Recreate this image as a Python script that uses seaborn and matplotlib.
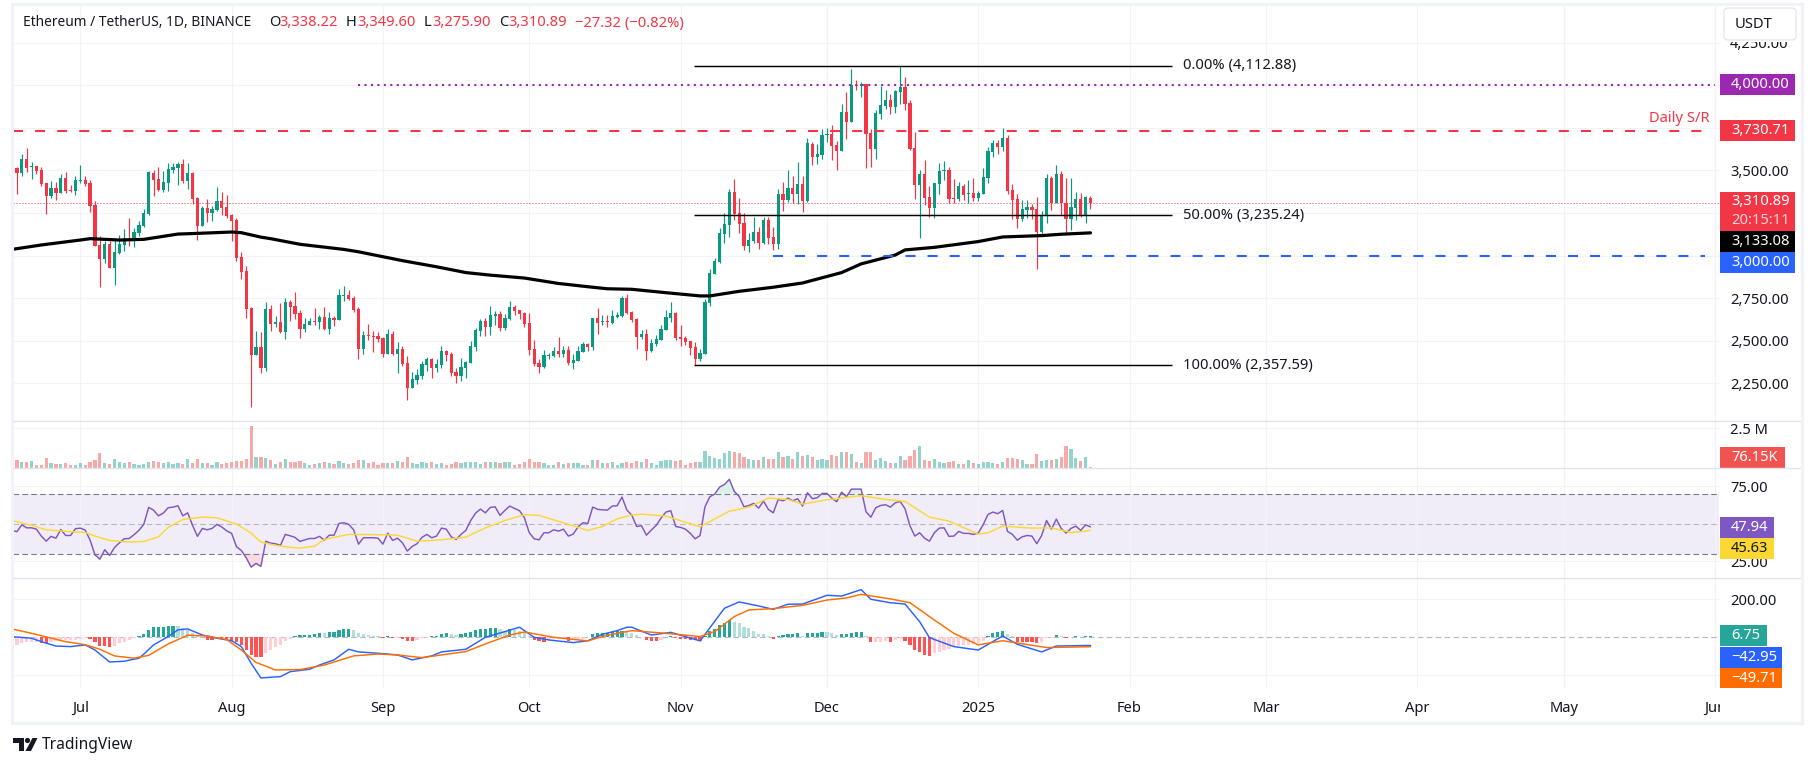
import matplotlib
matplotlib.use("Agg")
import matplotlib.pyplot as plt
from matplotlib.patches import Rectangle, FancyBboxPatch, Circle, Polygon
import seaborn as sns
import numpy as np
import pandas as pd

W, H = 1814, 767

# days counted from 1 Jul 2024
days = list(range(-14, 208))
month_days = [0, 31, 62, 92, 123, 153, 184, 215, 243, 274, 304, 335]
month_labels = ['Jul', 'Aug', 'Sep', 'Oct', 'Nov', 'Dec', '2025', 'Feb', 'Mar', 'Apr', 'May', 'Jun']

opens = [
    3625, 3513, 3484, 3566, 3519, 3525, 3502, 3425, 3349, 3396, 3367, 3455, 3384, 3378,
    3437, 3443, 3425, 3296, 3062, 2979, 3067, 2927, 3015, 3062, 3103, 3091, 3132, 3173,
    3243, 3484, 3449, 3384, 3425, 3502, 3513, 3537, 3437, 3484, 3337, 3173, 3279, 3249,
    3267, 3320, 3284, 3238, 3208, 2991, 2909, 2692, 2416, 2463, 2340, 2686, 2598, 2610,
    2551, 2727, 2703, 2662, 2568, 2592, 2615, 2610, 2639, 2568, 2633, 2621, 2762, 2768,
    2750, 2686, 2451, 2533, 2527, 2527, 2516, 2422, 2539, 2422, 2451, 2369, 2222, 2269,
    2293, 2357, 2392, 2340, 2357, 2439, 2422, 2316, 2293, 2340, 2369, 2463, 2557, 2615,
    2580, 2645, 2656, 2574, 2627, 2698, 2680, 2662, 2604, 2451, 2369, 2345, 2410, 2410,
    2439, 2422, 2445, 2369, 2381, 2433, 2480, 2463, 2633, 2610, 2615, 2604, 2639, 2645,
    2751, 2669, 2628, 2522, 2540, 2440, 2481, 2505, 2563, 2634, 2663, 2522, 2516, 2499,
    2464, 2393, 2422, 2722, 2892, 2962, 3127, 3179, 3373, 3250, 3191, 3056, 3086, 3138,
    3074, 3209, 3109, 3068, 3361, 3326, 3397, 3361, 3420, 3320, 3655, 3578, 3590, 3708,
    3713, 3649, 3614, 3842, 3784, 4001, 3995, 4007, 3719, 3625, 3831, 3878, 3913, 3872,
    3960, 3989, 3895, 3631, 3414, 3479, 3344, 3279, 3420, 3496, 3502, 3338, 3332, 3408,
    3361, 3367, 3338, 3361, 3455, 3608, 3661, 3637, 3690, 3385, 3332, 3215, 3267, 3285,
    3273, 3138, 3232, 3455, 3309, 3479, 3309, 3215, 3279, 3332, 3232, 3338.22,
]
highs = [
    3631, 3519, 3596, 3631, 3549, 3525, 3519, 3425, 3437, 3431, 3478, 3490, 3414, 3466,
    3531, 3466, 3443, 3320, 3114, 3085, 3085, 3103, 3120, 3155, 3220, 3161, 3202, 3273,
    3496, 3502, 3519, 3496, 3543, 3543, 3549, 3566, 3543, 3490, 3343, 3290, 3331, 3290,
    3402, 3372, 3355, 3243, 3220, 3020, 2938, 2698, 2557, 2551, 2727, 2709, 2645, 2721,
    2750, 2739, 2786, 2680, 2633, 2633, 2692, 2651, 2698, 2668, 2645, 2803, 2821, 2797,
    2762, 2698, 2557, 2598, 2557, 2551, 2521, 2568, 2557, 2492, 2469, 2410, 2316, 2334,
    2381, 2404, 2398, 2392, 2469, 2445, 2433, 2340, 2398, 2381, 2498, 2574, 2627, 2633,
    2703, 2674, 2674, 2656, 2733, 2709, 2680, 2668, 2662, 2504, 2392, 2445, 2428, 2463,
    2522, 2469, 2469, 2422, 2469, 2492, 2486, 2633, 2692, 2651, 2651, 2681, 2669, 2763,
    2775, 2675, 2634, 2563, 2569, 2510, 2534, 2593, 2681, 2728, 2669, 2593, 2528, 2499,
    2493, 2452, 2745, 2921, 2986, 3162, 3250, 3391, 3449, 3338, 3250, 3132, 3226, 3168,
    3226, 3226, 3168, 3391, 3432, 3502, 3467, 3549, 3467, 3690, 3666, 3655, 3743, 3749,
    3766, 3672, 3889, 3960, 4095, 4030, 4019, 4007, 3743, 3854, 3995, 3972, 3948, 3972,
    4113, 4048, 3913, 3725, 3502, 3561, 3408, 3426, 3543, 3555, 3520, 3449, 3432, 3420,
    3443, 3455, 3379, 3514, 3637, 3678, 3678, 3749, 3708, 3420, 3361, 3326, 3326, 3303,
    3344, 3262, 3479, 3467, 3531, 3496, 3455, 3455, 3373, 3367, 3349, 3349.6,
]
lows = [
    3564, 3361, 3468, 3492, 3449, 3478, 3410, 3243, 3339, 3326, 3367, 3367, 3372, 3355,
    3425, 3408, 3255, 3056, 2815, 2956, 2927, 2827, 3009, 3026, 3056, 3050, 3114, 3167,
    3238, 3349, 3378, 3372, 3378, 3482, 3414, 3425, 3390, 3302, 3091, 3173, 3196, 3202,
    3261, 3238, 3220, 3085, 2968, 2862, 2633, 2111, 2416, 2310, 2322, 2557, 2580, 2545,
    2510, 2615, 2627, 2516, 2551, 2592, 2592, 2568, 2563, 2539, 2586, 2621, 2733, 2739,
    2668, 2392, 2422, 2504, 2433, 2492, 2404, 2422, 2416, 2310, 2351, 2152, 2222, 2246,
    2275, 2322, 2281, 2316, 2340, 2381, 2293, 2252, 2263, 2281, 2369, 2439, 2527, 2527,
    2533, 2592, 2557, 2563, 2621, 2651, 2627, 2580, 2416, 2351, 2310, 2340, 2392, 2404,
    2404, 2404, 2357, 2334, 2381, 2433, 2439, 2445, 2539, 2592, 2580, 2598, 2634, 2639,
    2657, 2610, 2452, 2510, 2387, 2434, 2469, 2505, 2563, 2610, 2505, 2469, 2475, 2417,
    2356, 2381, 2422, 2704, 2892, 2956, 3074, 3109, 3209, 3132, 3033, 3021, 3074, 3039,
    3068, 3068, 3033, 3039, 3262, 3314, 3309, 3303, 3256, 3314, 3531, 3537, 3567, 3666,
    3561, 3502, 3614, 3684, 3784, 3972, 3931, 3514, 3520, 3567, 3801, 3860, 3831, 3837,
    3889, 3854, 3619, 3332, 3103, 3297, 3226, 3221, 3361, 3443, 3309, 3309, 3320, 3326,
    3309, 3320, 3320, 3361, 3426, 3578, 3596, 3614, 3361, 3215, 3162, 3203, 3221, 3215,
    2921, 3127, 3191, 3267, 3309, 3238, 3133, 3150, 3209, 3226, 3191, 3275.9,
]
closes = [
    3574, 3484, 3566, 3513, 3525, 3496, 3419, 3349, 3396, 3367, 3455, 3378, 3378, 3443,
    3443, 3419, 3290, 3056, 2979, 3067, 2927, 3020, 3067, 3103, 3091, 3138, 3179, 3249,
    3490, 3443, 3384, 3431, 3507, 3519, 3537, 3437, 3484, 3331, 3173, 3279, 3249, 3273,
    3320, 3279, 3232, 3202, 2985, 2903, 2686, 2416, 2463, 2340, 2686, 2598, 2610, 2551,
    2727, 2698, 2656, 2568, 2598, 2615, 2610, 2639, 2568, 2633, 2621, 2768, 2768, 2744,
    2680, 2451, 2533, 2525, 2521, 2510, 2422, 2539, 2422, 2451, 2363, 2222, 2275, 2298,
    2363, 2392, 2340, 2363, 2439, 2416, 2310, 2293, 2345, 2375, 2469, 2563, 2615, 2580,
    2651, 2656, 2574, 2633, 2698, 2674, 2656, 2598, 2445, 2363, 2345, 2416, 2416, 2439,
    2422, 2445, 2369, 2387, 2439, 2480, 2463, 2633, 2604, 2615, 2610, 2645, 2651, 2751,
    2663, 2622, 2522, 2540, 2440, 2487, 2510, 2569, 2640, 2663, 2516, 2510, 2493, 2458,
    2393, 2428, 2728, 2898, 2968, 3132, 3185, 3373, 3244, 3185, 3056, 3091, 3138, 3074,
    3209, 3103, 3068, 3361, 3326, 3397, 3361, 3420, 3320, 3661, 3578, 3596, 3708, 3713,
    3643, 3614, 3842, 3784, 4001, 3995, 4007, 3713, 3625, 3837, 3884, 3913, 3872, 3966,
    3989, 3889, 3625, 3414, 3479, 3338, 3279, 3426, 3496, 3502, 3332, 3332, 3408, 3355,
    3367, 3338, 3367, 3461, 3614, 3661, 3637, 3690, 3379, 3326, 3215, 3273, 3285, 3267,
    3138, 3238, 3455, 3309, 3479, 3309, 3215, 3285, 3332, 3232, 3344, 3310.89,
]

# volume in thousands
volume = [
    417, 521, 396, 396, 458, 208, 208, 646, 333, 271, 271, 333, 208, 208,
    333, 208, 396, 521, 958, 333, 271, 583, 396, 333, 396, 271, 208, 271,
    396, 458, 396, 333, 396, 271, 333, 271, 583, 333, 583, 333, 333, 208,
    396, 271, 333, 396, 458, 458, 583, 2646, 708, 708, 646, 521, 271, 396,
    583, 396, 396, 437, 333, 208, 271, 333, 396, 333, 271, 437, 333, 271,
    333, 521, 521, 333, 396, 208, 333, 333, 333, 458, 396, 708, 333, 271,
    396, 333, 396, 271, 333, 208, 271, 396, 333, 396, 396, 396, 271, 396,
    396, 396, 333, 396, 396, 208, 271, 396, 583, 396, 396, 333, 208, 208,
    396, 271, 333, 333, 333, 208, 208, 521, 521, 333, 333, 396, 208, 333,
    396, 333, 437, 396, 562, 312, 208, 437, 521, 521, 458, 521, 208, 333,
    396, 396, 1083, 771, 646, 583, 958, 1083, 1021, 958, 708, 583, 521, 521,
    708, 583, 583, 1021, 708, 771, 583, 1021, 771, 833, 708, 521, 583, 521,
    833, 771, 1021, 1021, 896, 396, 333, 1021, 1021, 521, 646, 458, 333, 333,
    771, 521, 771, 1146, 1396, 521, 458, 583, 396, 333, 396, 458, 271, 271,
    521, 333, 271, 396, 396, 333, 271, 396, 646, 646, 583, 521, 271, 271,
    896, 458, 521, 521, 583, 708, 1396, 1208, 646, 458, 708, 76.15,
]

ema_days = [-14, -8, 0, 2, 8, 13, 20, 24, 31, 33, 37, 39, 45, 54, 57, 66, 73, 79, 84, 91, 98,
            104, 108, 113, 120, 127, 129, 135, 142, 148, 156, 160, 167, 169, 175, 184,
            189, 197, 201, 207]
ema_values = [3036, 3062, 3091, 3099, 3091, 3095, 3126, 3130, 3138, 3134, 3108, 3099, 3066, 3036,
              3022, 2970, 2934, 2900, 2885, 2868, 2836, 2817, 2805, 2802, 2782, 2763, 2763,
              2790, 2814, 2839, 2900, 2951, 3003, 3033, 3048, 3082, 3109, 3117, 3125, 3133.08]

rsi = [
    45.6, 44.7, 49.3, 47.3, 47.3, 46.4, 41.8, 38.4, 41.6, 40.4, 46.2, 42.2, 42.2, 46.7,
    47.1, 45.8, 39.1, 29.3, 26.4, 32.7, 28.9, 34.2, 37.3, 40.0, 40.2, 42.7, 45.6, 49.6,
    60.9, 59.1, 55.3, 57.1, 60.7, 61.1, 62.0, 55.3, 57.3, 48.9, 41.6, 46.9, 46.0, 46.9,
    49.6, 47.8, 45.3, 43.6, 34.7, 32.2, 27.3, 21.1, 23.6, 21.6, 38.4, 37.1, 36.7, 35.6,
    42.9, 42.0, 40.9, 38.2, 39.3, 40.2, 40.2, 41.6, 39.1, 42.4, 42.4, 50.2, 50.7, 49.6,
    46.0, 36.4, 40.7, 40.7, 40.7, 40.4, 36.4, 43.8, 38.9, 40.4, 37.3, 31.8, 34.9, 36.7,
    40.9, 42.9, 40.7, 41.8, 47.1, 46.4, 41.3, 39.6, 42.9, 45.6, 52.2, 57.1, 59.8, 57.3,
    60.9, 61.3, 55.6, 58.9, 61.8, 60.2, 58.7, 54.0, 44.0, 40.0, 39.3, 44.0, 44.0, 46.0,
    45.1, 46.4, 41.8, 43.1, 48.0, 50.7, 50.2, 61.1, 59.6, 59.3, 59.1, 61.8, 62.0, 67.8,
    59.1, 55.8, 48.2, 48.7, 42.4, 45.8, 48.9, 53.8, 57.8, 58.7, 48.2, 47.6, 46.4, 43.6,
    40.0, 42.2, 61.3, 68.0, 69.8, 74.4, 76.2, 79.6, 71.6, 68.2, 61.3, 62.2, 63.6, 60.4,
    65.1, 59.6, 57.3, 66.2, 65.3, 67.1, 65.3, 66.7, 61.8, 70.7, 66.7, 67.3, 70.2, 70.2,
    67.1, 64.7, 71.1, 68.0, 73.1, 73.1, 73.1, 58.0, 54.4, 60.7, 62.2, 62.7, 61.1, 64.0,
    64.9, 60.0, 48.7, 41.8, 44.0, 40.4, 38.4, 44.0, 47.1, 47.3, 41.6, 41.8, 44.9, 43.6,
    43.6, 42.9, 43.8, 49.3, 56.2, 57.8, 56.7, 58.9, 44.9, 42.9, 39.1, 41.3, 42.2, 41.8,
    36.7, 42.2, 52.2, 46.4, 53.1, 46.9, 43.8, 46.9, 48.4, 45.6, 49.3, 47.94,
]
rsi_ma_days = [-14, -10, -7, -2, 1, 3, 6, 10, 13, 16, 18, 21, 25, 28, 32, 35, 37, 40, 44, 45,
               48, 50, 55, 62, 65, 69, 74, 79, 83, 87, 91, 94, 100, 104, 107, 110, 113, 115,
               120, 127, 133, 137, 141, 145, 148, 153, 160, 165, 169, 174, 178, 184, 186,
               189, 195, 199, 203, 205, 207]
rsi_ma = [52.2, 48.9, 46.0, 44.7, 44.2, 41.8, 38.9, 37.8, 38.2, 41.3, 47.6, 52.9, 54.4, 54.0,
          49.8, 43.8, 37.8, 35.6, 34.0, 33.8, 35.1, 39.6, 42.9, 42.7, 42.4, 38.4, 39.3, 41.1,
          47.3, 52.2, 56.0, 55.6, 49.6, 45.6, 48.2, 53.3, 55.8, 56.4, 55.1, 48.0, 58.4, 61.1,
          67.1, 66.2, 63.1, 66.0, 68.7, 66.2, 64.9, 54.4, 51.8, 43.1, 44.0, 48.4, 47.1, 47.3,
          44.2, 44.7, 45.63]

macd_hist = [
    -39, -39, -32, -26, -26, -23, -30, -32, -26, -21, -18, -16, -14, -12,
    -7, -2, -7, -25, -44, -47, -49, -44, -32, -23, -16, -5, 9, 19,
    40, 54, 55, 56, 60, 61, 60, 49, 40, 25, 7, 4, -12, -14,
    -7, -8, -11, -18, -26, -39, -65, -91, -102, -103, -81, -67, -53, -39,
    -21, -9, 5, 11, 12, 14, 18, 23, 22, 28, 30, 37, 44, 45,
    39, 23, 18, 12, 9, 5, -4, 9, -4, -2, -9, -18, -19, -16,
    -5, -2, 7, 8, 18, 23, 18, 12, 16, 23, 28, 39, 44, 45,
    49, 50, 44, 35, 44, 39, 32, 21, 7, -14, -21, -23, -12, -11,
    -9, -4, -18, -11, -9, -7, -1, 18, 21, 23, 25, 30, 33, 34,
    28, 21, 12, 2, -12, -18, -19, -12, 2, 7, -2, -7, -11, -12,
    -14, -21, 9, 32, 42, 65, 75, 89, 82, 75, 54, 47, 33, 18,
    17, 9, -9, 7, 12, 18, 19, 20, 7, 23, 24, 25, 28, 27,
    23, 12, 18, 19, 23, 28, 29, 7, -25, -23, -23, -18, -23, -14,
    -9, -18, -39, -65, -75, -91, -96, -81, -75, -65, -60, -53, -44, -39,
    -38, -33, -30, -18, 5, 23, 28, 33, 18, 5, -23, -24, -25, -26,
    -28, -26, -5, -4, 12, 5, -4, 0, 7, 4, 5, 6.75,
]
macd_days = [-14, -10, -8, -5, -2, 1, 3, 6, 9, 12, 13, 15, 18, 20, 22, 25, 28, 31, 33, 35, 37,
             41, 43, 47, 49, 52, 55, 57, 61, 65, 68, 72, 74, 79, 83, 87, 90, 93, 96, 101, 104,
             107, 110, 112, 113, 117, 121, 127, 132, 135, 139, 142, 145, 148, 153, 156, 160,
             162, 166, 169, 172, 174, 179, 184, 189, 192, 197, 200, 207]
macd_line = [3.5, -5, -23, -46, -49, -40, -67, -130, -126, -110, -89, -40, 4, 39, 44, 12, -5,
             -18, -49, -137, -214, -207, -181, -168, -146, -119, -63, -77, -84, -93, -119, -98,
             -77, -63, 0, 30, 53, 0, -14, -28, -18, 16, 35, 53, 53, 12, 26, -19, 153, 186, 165,
             147, 174, 175, 221, 217, 251, 200, 182, 175, 82, -2, -49, -67, 7, -37, -77, -46,
             -42.95]
signal_days = [-14, -10, -7, -3, 1, 4, 7, 11, 14, 18, 22, 26, 30, 33, 36, 40, 45, 50, 56, 61,
               65, 70, 74, 79, 83, 88, 91, 97, 104, 107, 110, 113, 120, 127, 130, 134, 137,
               142, 148, 153, 157, 160, 166, 170, 175, 179, 184, 189, 198, 207]
signal_line = [44, 21, 2, -23, -39, -63, -98, -110, -95, -35, 11, 7, -12, -67, -132, -172, -170,
               -146, -98, -88, -93, -107, -93, -75, -35, 12, 28, 0, -19, 4, 21, 35, 21, 4, 30,
               109, 144, 151, 168, 196, 207, 226, 202, 182, 91, 21, -40, -18, -54, -49.71]

# drawn levels on the price pane
fib_prices = [4112.88, 3235.24, 2357.59]
fib_labels = ['0.00% (4,112.88)', '50.00% (3,235.24)', '100.00% (2,357.59)']
price_ticks = [2250, 2500, 2750, 3000, 3250, 3500, 3750, 4000, 4250]
price_tick_labels = ['2,250.00', '2,500.00', '2,750.00', '', '', '3,500.00', '', '', '4,250.00']

GREEN, RED = '#089981', '#F23645'
GRID, SEP = '#F2F3F7', '#E0E3EB'
TXT = '#131722'
FS = 10.6

sns.set_theme(style='white')
plt.rcParams['font.family'] = ['Noto Sans', 'DejaVu Sans']
plt.rcParams['font.size'] = FS

fig = plt.figure(figsize=(W / 100, H / 100), dpi=100, facecolor='white')


def pane(top, bottom):
    ax = fig.add_axes([13 / W, 1 - bottom / H, (1719 - 13) / W, (bottom - top) / H])
    ax.set_facecolor('none')
    return ax


def finish(ax, ylim, ticks, labels):
    ax.set_xlim(-13.8, 335.8)
    ax.set_ylim(*ylim)
    ax.set_xticks(month_days)
    ax.set_xticklabels([])
    ax.yaxis.tick_right()
    ax.set_yticks(ticks)
    ax.set_yticklabels(labels, color=TXT)
    ax.tick_params(length=0, pad=7.9, labelsize=FS)
    ax.set_xlabel('')
    ax.set_ylabel('')
    ax.grid(True, color=GRID, linewidth=0.8)
    ax.set_axisbelow(True)
    for s in ax.spines.values():
        s.set_visible(False)


frame = pd.DataFrame({'day': days, 'open': opens, 'high': highs, 'low': lows,
                      'close': closes, 'volume': volume, 'hist': macd_hist, 'rsi': rsi})
up = frame['close'] >= frame['open']

# price pane
ax_price = pane(4, 420.5)
candle_colors = np.where(up, GREEN, RED)
ax_price.vlines(frame['day'], frame['low'], frame['high'], colors=candle_colors,
                linewidth=0.85, zorder=2)
ax_price.bar(frame['day'], np.maximum((frame['close'] - frame['open']).abs(), 5),
             bottom=frame[['open', 'close']].min(axis=1), width=0.66,
             color=candle_colors, linewidth=0, zorder=2)
sns.lineplot(x=ema_days, y=ema_values, color='black', linewidth=2.3, ax=ax_price, zorder=3)

ax_price.axhline(closes[-1], color=RED, linewidth=0.72, linestyle=(0, (1, 2)), zorder=4)
ax_price.hlines(3730.71, -13.8, 333, color=RED, linewidth=1.5, linestyle=(0, (4.8, 5.8)), zorder=4)
ax_price.hlines(4000, 57, 335, color='#9C27B0', linewidth=1.5, linestyle=(0, (1, 2.1)), zorder=4)
ax_price.hlines(3000, 142, 333, color='#2962FF', linewidth=1.5, linestyle=(0, (4.8, 5.8)), zorder=4)
ax_price.hlines(fib_prices, 125.8, 223.7, color='black', linewidth=1.05, zorder=4)
for p, label in zip(fib_prices, fib_labels):
    ax_price.text(226, p, label, color=TXT, fontsize=FS, va='center', ha='left', zorder=5)
finish(ax_price, (2032, 4476), price_ticks, price_tick_labels)

# volume pane
ax_vol = pane(421, 468.3)
vol_frame = frame.assign(color=np.where(up, '#92D3CB', '#F7A9A7'))
sns.barplot(data=vol_frame, x='day', y='volume', hue='color',
            palette={'#92D3CB': '#92D3CB', '#F7A9A7': '#F7A9A7'}, native_scale=True,
            dodge=False, width=0.66, saturation=1, errorbar=None, legend=False,
            linewidth=0, ax=ax_vol)
finish(ax_vol, (0, 2956), [2500], ['2.5 M'])

# RSI pane
ax_rsi = pane(468.4, 578.4)
ax_rsi.axhspan(30, 70, color='#F0EDF8', linewidth=0, zorder=0)
ax_rsi.fill_between(frame['day'], 30, frame['rsi'], where=frame['rsi'] < 30, color='#F9DCE3',
                    linewidth=0, interpolate=True, zorder=1)
ax_rsi.fill_between(frame['day'], 70, frame['rsi'], where=frame['rsi'] > 70, color='#DDF2E6',
                    linewidth=0, interpolate=True, zorder=1)
ax_rsi.axhline(70, color='#787B86', linewidth=0.8, linestyle=(0, (5, 3)), zorder=2)
ax_rsi.axhline(30, color='#787B86', linewidth=0.8, linestyle=(0, (5, 3)), zorder=2)
ax_rsi.axhline(50, color='#B7B7BF', linewidth=0.8, linestyle=(0, (5, 3)), zorder=2)
sns.lineplot(data=frame, x='day', y='rsi', color='#7E57C2', linewidth=1.05, ax=ax_rsi, zorder=3)
sns.lineplot(x=rsi_ma_days, y=rsi_ma, color='#FDD835', linewidth=1.05, ax=ax_rsi, zorder=3)
finish(ax_rsi, (13.6, 86.9), [25, 75], ['25.00', '75.00'])

# MACD pane, histogram colour follows sign and direction
ax_macd = pane(578.4, 688.4)
prev = frame['hist'].shift(1).fillna(frame['hist'])
hist_color = np.where(frame['hist'] >= 0,
                      np.where(frame['hist'] >= prev, '#26A69A', '#B2DFDB'),
                      np.where(frame['hist'] >= prev, '#FFCDD2', '#FF5252'))
macd_frame = frame.assign(color=hist_color)
ax_macd.axhline(0, color='#B7B7BF', linewidth=0.8, linestyle=(0, (5, 3)), zorder=1)
sns.barplot(data=macd_frame, x='day', y='hist', hue='color',
            palette={c: c for c in ['#26A69A', '#B2DFDB', '#FFCDD2', '#FF5252']},
            native_scale=True, dodge=False, width=0.66, saturation=1, errorbar=None,
            legend=False, linewidth=0, ax=ax_macd, zorder=2)
sns.lineplot(x=macd_days, y=macd_line, color='#2962FF', linewidth=1.05, ax=ax_macd, zorder=3)
sns.lineplot(x=signal_days, y=signal_line, color='#FF6D00', linewidth=1.05, ax=ax_macd, zorder=3)
finish(ax_macd, (-269, 310), [-200, 200], ['', '200.00'])
ax_macd.set_xticklabels(month_labels, color=TXT, fontsize=FS)
ax_macd.tick_params(axis='x', pad=8.8)
ax_macd.get_xticklabels()[6].set_fontweight('bold')

# overlay in pixel coordinates for frame, value tags and header
over = fig.add_axes([0, 0, 1, 1], zorder=10)
over.set_xlim(0, W)
over.set_ylim(H, 0)
over.axis('off')
over.patch.set_alpha(0)

over.add_patch(Rectangle((1719.5, 694), 82, 22, color='white', linewidth=0))
over.add_patch(Rectangle((12, 3.5), 1789.5, 719.5, fill=False, edgecolor='#F0F3FA', linewidth=2.2))
for y in [421, 468.4, 578.4]:
    over.plot([13, 1800], [y, y], color=SEP, linewidth=1)


def tag(y0, y1, x1, color, text, text_color='white', text_y=None):
    over.add_patch(Rectangle((1720, y0), x1 - 1720, y1 - y0, color=color, linewidth=0))
    y = (y0 + y1) / 2 if text_y is None else text_y
    over.text(1731, y, text, color=text_color, va='center', ha='left', fontsize=FS)


tag(74, 95, 1795, '#9C27B0', '4,000.00')
tag(120, 141, 1795, RED, '3,730.71')
tag(192, 231, 1795, RED, '3,310.89', text_y=201.5)
over.text(1731, 220.5, '20:15:11', color='#FFD5DA', va='center', ha='left', fontsize=FS)
tag(231, 252, 1795, 'black', '3,133.08')
tag(252, 273, 1795, '#2962FF', '3,000.00')
tag(447, 468, 1785, '#F05350', '76.15K')
tag(517, 538, 1774, '#7E57C2', '47.94')
tag(538, 559, 1774, '#FDD835', '45.63', TXT)
tag(625, 646, 1767, '#26A69A', '6.75')
tag(647, 668, 1782, '#2962FF', '\u221242.95')
tag(668, 688, 1782, '#FF6D00', '\u221249.71')

over.text(1710, 118, 'Daily S/R', color=RED, ha='right', va='center', fontsize=FS)

# the USDT button hides the top of the 4,250.00 label
over.add_patch(Rectangle((1720, 6), 80, 36, color='white', linewidth=0))
over.add_patch(FancyBboxPatch((1724, 8), 72, 32, boxstyle='round,pad=0,rounding_size=4',
                              facecolor='white', edgecolor=SEP, linewidth=0.8))
over.text(1735, 24, 'USDT', color=TXT, va='center', ha='left', fontsize=FS)

header = [(23, 'Ethereum / TetherUS, 1D, BINANCE', TXT, 9.9), (269, 'O', TXT, FS), (279, '3,338.22', RED, FS),
          (346, 'H', TXT, FS), (357, '3,349.60', RED, FS), (424, 'L', TXT, FS), (432, '3,275.90', RED, FS),
          (499, 'C', TXT, FS), (508, '3,310.89', RED, FS), (575, '\u221227.32 (\u22120.82%)', RED, FS)]
for x, text, color, size in header:
    over.text(x, 23, text, color=color, va='center', ha='left', fontsize=size)

# TradingView mark and footer
over.add_patch(Polygon([(13, 738), (24, 738), (24, 751), (18.5, 751), (18.5, 743), (13, 743)], color=TXT, linewidth=0))
over.add_patch(Circle((27.5, 740.5), 2.6, color=TXT, linewidth=0))
over.add_patch(Polygon([(32.5, 738), (37.5, 738), (31, 751), (25.5, 751)], color=TXT, linewidth=0))
over.text(42, 745, 'TradingView', color=TXT, va='center', ha='left', fontsize=11.2)

fig.savefig('out.png', dpi=100, facecolor='white')
